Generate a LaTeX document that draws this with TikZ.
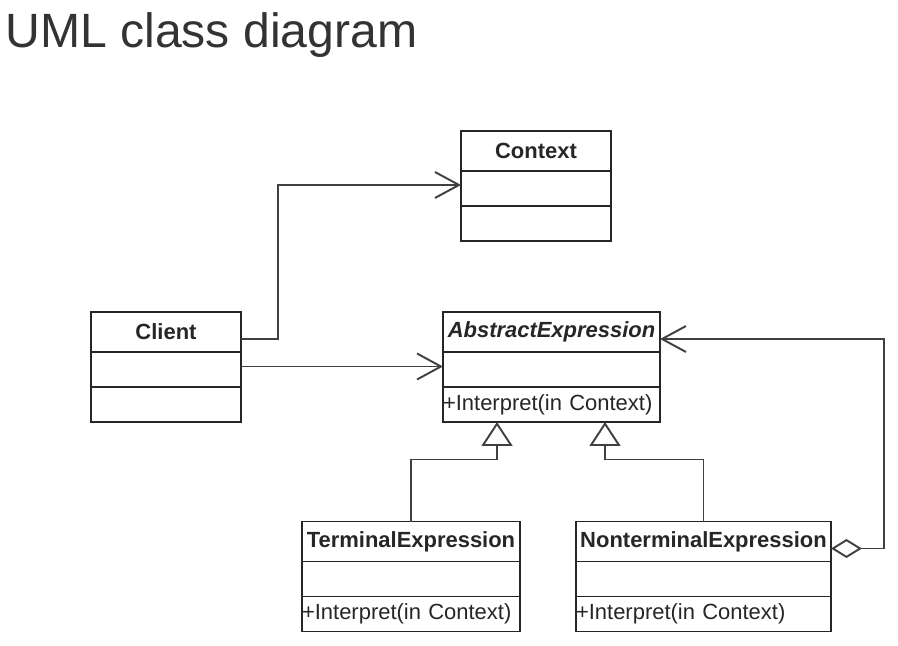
\documentclass[tikz,border=0pt]{standalone}
\usepackage{fontspec}
\setmainfont{Liberation Sans}
\usetikzlibrary{arrows.meta}
\definecolor{umlgray}{HTML}{333333}
\pgfkeys{tikz/umlname/.style={draw=black!85, line width=1.1pt,
                                  minimum width=#1, minimum height=0.8cm,
                                  inner sep=0pt, outer sep=0pt, text=black!85,
                                  font=\fontsize{12.5}{14}\selectfont\bfseries}}
\pgfkeys{tikz/umlattr/.style={draw=black!85, line width=1.1pt,
                                  minimum width=#1, minimum height=0.7cm,
                                  inner sep=0pt, outer sep=0pt, anchor=north}}
\pgfkeys{tikz/umlop/.style={umlattr=#1, text width=#1, align=left,
                                  text=black!85,
                                  font=\fontsize{12.5}{14}\selectfont}}
\pgfkeys{tikz/umlline/.style={draw=black!75, line width=1.1pt}}
\pgfkeys{tikz/umlassoc/.style={umlline, -{Straight Barb[length=0.48cm, width=0.52cm]}}}
\pgfkeys{tikz/umlinherit/.style={umlline, -{Triangle[open, length=0.48cm, width=0.62cm]}}}
\pgfkeys{tikz/umlaggr/.style={umlline, {Diamond[open, length=0.62cm, width=0.38cm]}-{Straight Barb[length=0.48cm, width=0.52cm]}}}

\begin{document}
\begin{tikzpicture}[x=0.02cm, y=-0.02cm]
            \useasboundingbox (0,0) rectangle (898,645);
            \node[anchor=base west, inner sep=0pt, text=umlgray,
                  font=\fontsize{27.4}{32}\selectfont] (title) at (5,48) {UML class diagram};

            \node[umlname=3cm] (ctx) at (536,151) {Context};
                    \node[umlattr=3cm] (ctxA) at (ctx.south) {};
                    \node[umlattr=3cm] (ctxO) at (ctxA.south) {};

            \node[umlname=3cm] (cl) at (166,332) {Client};
                    \node[umlattr=3cm] (clA) at (cl.south) {};
                    \node[umlattr=3cm] (clO) at (clA.south) {};

            \node[umlname=4.34cm, font=\fontsize{12.5}{14}\selectfont\bfseries\itshape] (abs) at (551.5,332) {AbstractExpression};
                    \node[umlattr=4.34cm] (absA) at (abs.south) {};
                    \node[umlop=4.34cm] (absO) at (absA.south) {+Interpret(in Context)};

            \node[umlname=4.36cm] (term) at (411,541.5) {TerminalExpression};
                    \node[umlattr=4.36cm] (termA) at (term.south) {};
                    \node[umlop=4.36cm] (termO) at (termA.south) {+Interpret(in Context)};

            \node[umlname=5.1cm] (nt) at (703.5,541.5) {NonterminalExpression};
                    \node[umlattr=5.1cm] (ntA) at (nt.south) {};
                    \node[umlop=5.1cm] (ntO) at (ntA.south) {+Interpret(in Context)};

                    \draw[umlassoc] ([yshift=-0.14cm]cl.east) -- ++(0.74cm,0) |- ([yshift=0.07cm]ctxA.west);
                    \draw[umlassoc] ([yshift=0.06cm]clA.east) -- ([yshift=0.06cm]absA.west);
                    \draw[umlinherit] (term.north) -- ++(0,1.24cm) -| ([xshift=-1.09cm]absO.south);
                    \draw[umlinherit] (nt.north) -- ++(0,1.24cm) -| ([xshift=1.07cm]absO.south);
                    \draw[umlaggr] ([yshift=-0.14cm]nt.east) -- ++(1.06cm,0) |- ([yshift=-0.14cm]abs.east);
\end{tikzpicture}
\end{document}
